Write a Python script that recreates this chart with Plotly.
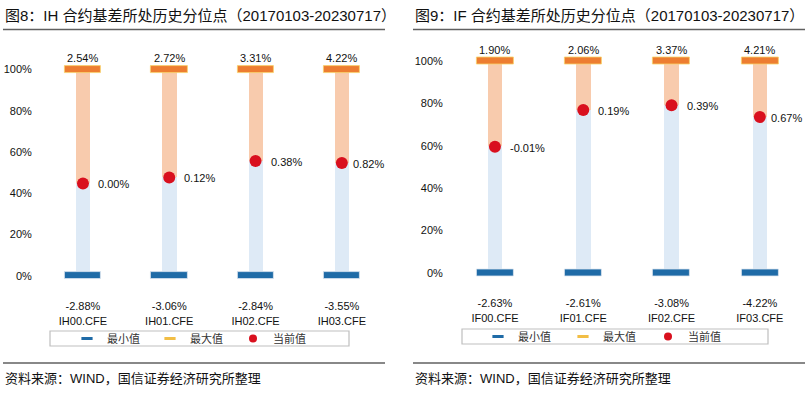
import plotly.graph_objects as go

# ---------------- data ----------------
ih_categories = ["IH00.CFE", "IH01.CFE", "IH02.CFE", "IH03.CFE"]
ih_percentile = [44.8, 47.7, 55.6, 54.7]
ih_current = ["0.00%", "0.12%", "0.38%", "0.82%"]
ih_max = ["2.54%", "2.72%", "3.31%", "4.22%"]
ih_min = ["-2.88%", "-3.06%", "-2.84%", "-3.55%"]

if_categories = ["IF00.CFE", "IF01.CFE", "IF02.CFE", "IF03.CFE"]
if_percentile = [59.5, 76.9, 79.1, 73.5]
if_current = ["-0.01%", "0.19%", "0.39%", "0.67%"]
if_max = ["1.90%", "2.06%", "3.37%", "4.21%"]
if_min = ["-2.63%", "-2.61%", "-3.08%", "-4.22%"]

y_ticks = [0, 20, 40, 60, 80, 100]
y_ticklabels = ["0%", "20%", "40%", "60%", "80%", "100%"]

# ---------------- style ----------------
W, H = 806, 412
FONT = "Liberation Sans, Arial, Noto Sans CJK SC, sans-serif"
CJK = "Noto Sans CJK SC, sans-serif"
LIGHT_BLUE = "#DEEAF6"
PEACH = "#F8CBAD"
ORANGE = "#ED7D31"
BLUE = "#1F6BA7"
GOLD = "#F2BE45"
RED = "#D9101E"
TXT = "#111111"

fig = go.Figure()

panels = [
    dict(cats=ih_categories, pct=ih_percentile, cur=ih_current, mx=ih_max, mn=ih_min,
         xa="x", ya="y", legend="legend"),
    dict(cats=if_categories, pct=if_percentile, cur=if_current, mx=if_max, mn=if_min,
         xa="x2", ya="y2", legend="legend2"),
]

MARK_H = 3.4
for p in panels:
    n = len(p["cats"])
    idx = list(range(n))
    fig.add_trace(go.Bar(x=idx, y=p["pct"], base=[0] * n, width=0.165,
                         marker=dict(color=LIGHT_BLUE, line=dict(width=0)),
                         xaxis=p["xa"], yaxis=p["ya"], showlegend=False, hoverinfo="skip"))
    fig.add_trace(go.Bar(x=idx, y=[100 - v for v in p["pct"]], base=p["pct"], width=0.165,
                         marker=dict(color=PEACH, line=dict(width=0)),
                         xaxis=p["xa"], yaxis=p["ya"], showlegend=False, hoverinfo="skip"))
    fig.add_trace(go.Bar(x=idx, y=[MARK_H] * n, base=[0 - MARK_H / 2] * n, width=0.42,
                         marker=dict(color=BLUE, line=dict(width=0.8, color="#DDE6F0")),
                         xaxis=p["xa"], yaxis=p["ya"], showlegend=False, hoverinfo="skip"))
    fig.add_trace(go.Bar(x=idx, y=[MARK_H] * n, base=[100 - MARK_H / 2] * n, width=0.42,
                         marker=dict(color=ORANGE, line=dict(width=0.8, color="#F7D36A")),
                         xaxis=p["xa"], yaxis=p["ya"], showlegend=False, hoverinfo="skip"))
    fig.add_trace(go.Scatter(x=idx, y=p["pct"], mode="markers",
                             marker=dict(color=RED, size=12),
                             xaxis=p["xa"], yaxis=p["ya"], showlegend=False, hoverinfo="skip"))
    fig.add_trace(go.Scatter(x=[None], y=[None], mode="markers", name="最小值",
                             marker=dict(symbol="line-ew", size=8, line=dict(width=3, color=BLUE)),
                             xaxis=p["xa"], yaxis=p["ya"], legend=p["legend"]))
    fig.add_trace(go.Scatter(x=[None], y=[None], mode="markers", name="最大值",
                             marker=dict(symbol="line-ew", size=8, line=dict(width=3, color=GOLD)),
                             xaxis=p["xa"], yaxis=p["ya"], legend=p["legend"]))
    fig.add_trace(go.Scatter(x=[None], y=[None], mode="markers", name="当前值",
                             marker=dict(symbol="circle", size=8, color=RED),
                             xaxis=p["xa"], yaxis=p["ya"], legend=p["legend"]))

    for i in idx:
        fig.add_annotation(x=i, y=100, xref=p["xa"], yref=p["ya"], text=p["mx"][i],
                           showarrow=False, yanchor="bottom", yshift=3,
                           font=dict(family=FONT, size=11, color=TXT))
        fig.add_annotation(x=i, y=p["pct"][i], xref=p["xa"], yref=p["ya"], text=p["cur"][i],
                           showarrow=False, xanchor="left", yanchor="middle",
                           xshift=(9 if i == n - 1 else 13), yshift=-1,
                           font=dict(family=FONT, size=11, color=TXT))

def xaxis_cfg(domain, panel, anchor):
    n = len(panel["cats"])
    return dict(domain=domain, range=[-0.5, n - 0.5], tickmode="array",
                tickvals=list(range(n)),
                ticktext=[f"{panel['mn'][i]}<br>{panel['cats'][i]}" for i in range(n)],
                showgrid=False, zeroline=False, showline=False, ticks="", anchor=anchor,
                ticklabelstandoff=12, tickfont=dict(family=FONT, size=11, color=TXT),
                fixedrange=True)

def yaxis_cfg(domain, anchor):
    return dict(domain=domain, range=[-5, 105], tickmode="array", tickvals=y_ticks,
                ticktext=y_ticklabels, showgrid=False, zeroline=False, showline=False,
                ticks="", ticklabelstandoff=7, anchor=anchor,
                tickfont=dict(family=FONT, size=11, color=TXT), fixedrange=True)

fig.update_layout(
    xaxis=xaxis_cfg([39.8 / W, 385 / W], panels[0], "y"),
    yaxis=yaxis_cfg([1 - 286.3 / H, 1 - 59 / H], "x"),
    xaxis2=xaxis_cfg([450.8 / W, 804 / W], panels[1], "y2"),
    yaxis2=yaxis_cfg([1 - 283.3 / H, 1 - 50.4 / H], "x2"),
)

legend_common = dict(orientation="h", xanchor="left", yanchor="middle",
                     bgcolor="rgba(0,0,0,0)", borderwidth=0,
                     font=dict(family=CJK, size=11, color="#333"),
                     itemwidth=30, tracegroupgap=0)
fig.update_layout(
    legend=dict(x=67 / W, y=1 - 338.5 / H, entrywidth=38, **legend_common),
    legend2=dict(x=478 / W, y=1 - 336.5 / H, entrywidth=40, **legend_common),
)

for x0, title in [(3, "图8：IH 合约基差所处历史分位点（20170103-20230717）"),
                  (413, "图9：IF 合约基差所处历史分位点（20170103-20230717）")]:
    fig.add_annotation(x=x0 / W, y=1 - 16 / H, xref="paper", yref="paper", text=title,
                       showarrow=False, xanchor="left", yanchor="middle",
                       font=dict(family=FONT, size=15, color=TXT))
for x0 in [3, 413]:
    fig.add_annotation(x=x0 / W, y=1 - 378 / H, xref="paper", yref="paper",
                       text="资料来源：WIND，国信证券经济研究所整理",
                       showarrow=False, xanchor="left", yanchor="middle",
                       font=dict(family=FONT, size=13, color=TXT))

for x0, x1 in [(3, 385), (413, 805)]:
    for yy in [29.5, 363]:
        fig.add_shape(type="line", xref="paper", yref="paper",
                      x0=x0 / W, x1=x1 / W, y0=1 - yy / H, y1=1 - yy / H,
                      line=dict(color="#606060", width=1.5))
for x0, x1, y0, y1 in [(50, 349, 331, 346), (462, 768, 329, 344)]:
    fig.add_shape(type="rect", xref="paper", yref="paper",
                  x0=x0 / W, x1=x1 / W, y0=1 - y1 / H, y1=1 - y0 / H,
                  line=dict(color="#BFBFBF", width=1.2), fillcolor="rgba(0,0,0,0)")

fig.update_layout(
    width=W, height=H, margin=dict(l=0, r=0, t=0, b=0),
    paper_bgcolor="white", plot_bgcolor="white",
    barmode="overlay", bargap=0, showlegend=True,
)

fig.write_html("out.html", config={"displayModeBar": False},
               post_script="document.body.style.margin='0';document.body.style.overflow='hidden';")
